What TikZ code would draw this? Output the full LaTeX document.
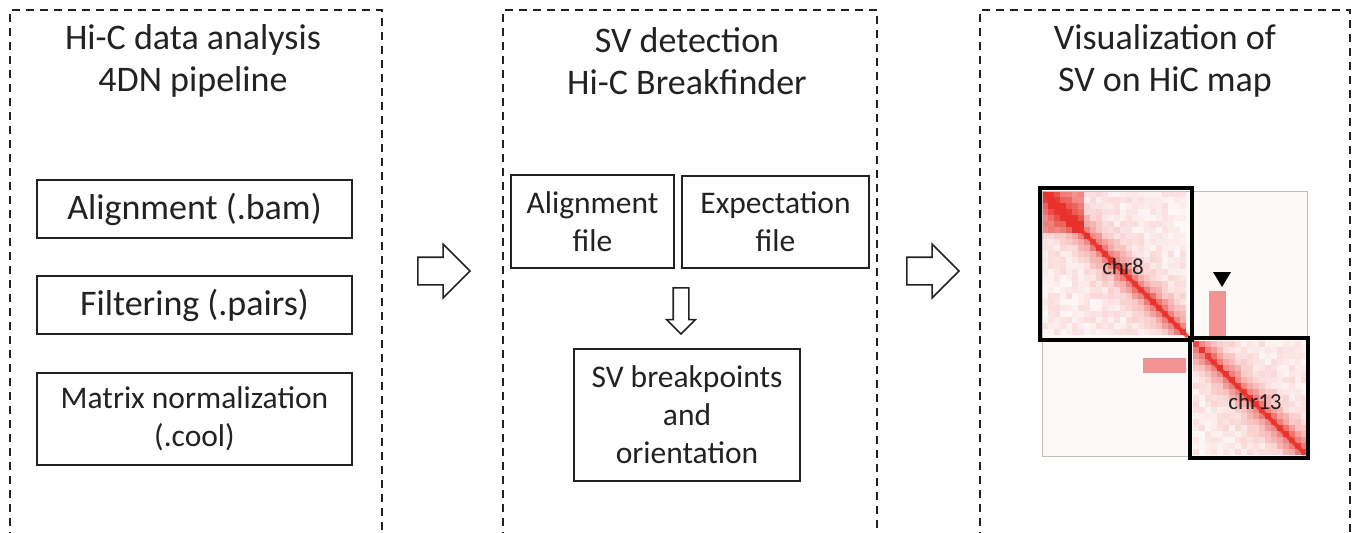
\documentclass[tikz,border=0pt]{standalone}
\usepackage{fontspec}
\setmainfont{Carlito}
\usetikzlibrary{shapes.arrows}
\definecolor{txt}{HTML}{222222}
\definecolor{hic}{HTML}{E8312A}
\begin{document}
\begin{tikzpicture}[x=1pt,y=-1pt,
	panel/.style={dashed,dash pattern=on 8pt off 6pt,line width=1.5pt,txt},
	title/.style={align=center,text=txt,font=\fontsize{36}{42}\selectfont},
	stepbox/.style={draw=txt,line width=1.6pt,align=center,text=txt,inner sep=0,font=\fontsize{36}{39}\selectfont},
	smallbox/.style={stepbox,font=\fontsize{31.5}{38}\selectfont},
	bigarrow/.style={single arrow,draw=txt,line width=1.6pt,inner sep=0,inner ysep=13pt,single arrow head extend=13pt,minimum height=52pt},
	chrbox/.style={draw=black,line width=4.5pt},
	chrlabel/.style={text=txt,font=\fontsize{23}{24}\selectfont}]
\useasboundingbox (0,0) rectangle (1358,533);
% panels
\draw[panel] (10,540) |- (382,10) -- (382,540);
\draw[panel] (503,540) |- (877,10) -- (877,540);
\draw[panel] (980,540) |- (1350,10) -- (1350,540);
\node[title] (t1) at (193,61) {Hi-C data analysis\\4DN pipeline};
\node[title] (t2) at (687,61) {SV detection\\Hi-C Breakfinder};
\node[title] (t3) at (1165,61) {Visualization of\\SV on HiC map};
% pipeline
\node[stepbox,minimum width=315pt,minimum height=58pt] (bam) at (194.5,209) {Alignment (.bam)};
\node[stepbox,minimum width=315pt,minimum height=58pt] (pairs) at (194.5,305) {Filtering (.pairs)};
\node[smallbox,minimum width=315pt,minimum height=92pt] (cool) at (194.5,419) {Matrix normalization\\(.cool)};
\node[bigarrow] (a1) at (437,271) {};
% breakfinder
\node[smallbox,minimum width=163pt,minimum height=93pt] (aln) at (592.5,221.5) {Alignment\\file};
\node[smallbox,minimum width=187pt,minimum height=92pt] (exp) at (775.5,222) {Expectation\\file};
\node[bigarrow,shape border rotate=270,inner sep=7pt,single arrow head extend=6.5pt,minimum height=46pt] (a2) at (681,307) {};
\node[smallbox,minimum width=226pt,minimum height=132pt] (sv) at (687,415) {SV breakpoints\\and\\orientation};
\node[bigarrow] (a3) at (926,271) {};
% hic map
\fill[hic!3] (1042,191) rectangle (1307,456);
\pgfmathsetseed{7}
\foreach \i in {0,...,23}
	\foreach \j in {0,...,23} {
		\pgfmathsetmacro\o{min(1,0.85*exp(-abs(\i-\j)/2.2)+0.14*rnd+(\i<7)*(\j<7)*0.4)}
		\fill[hic,opacity=\o] (1042+6*\i,191+6*\j) rectangle +(6.2,6.2);
	}
\foreach \i in {0,...,18}
	\foreach \j in {0,...,18} {
		\pgfmathsetmacro\o{min(1,0.85*exp(-abs(\i-\j)/2.2)+0.14*rnd)}
		\fill[hic,opacity=\o] (1193+6*\i,341+6*\j) rectangle +(6.2,6.2);
	}
\fill[hic,opacity=0.5] (1209,291) rectangle (1226,337);
\fill[hic,opacity=0.5] (1143,358) rectangle (1186,373);
\draw[hic,line width=4pt,opacity=0.8] (1044,193) -- (1188,337);
\draw[hic,line width=4pt,opacity=0.8] (1209,358) -- (1305,454);
\draw[gray!50,line width=0.8pt] (1042,191) rectangle (1307,456);
\draw[chrbox] (1040,188) rectangle (1192,340);
\draw[chrbox] (1190,338) rectangle (1308,458);
\fill[black] (1213,272) -- (1231,272) -- (1222,287) -- cycle;
\node[chrlabel] (c8) at (1123,267) {chr8};
\node[chrlabel] (c13) at (1255,402) {chr13};
\end{tikzpicture}
\end{document}
